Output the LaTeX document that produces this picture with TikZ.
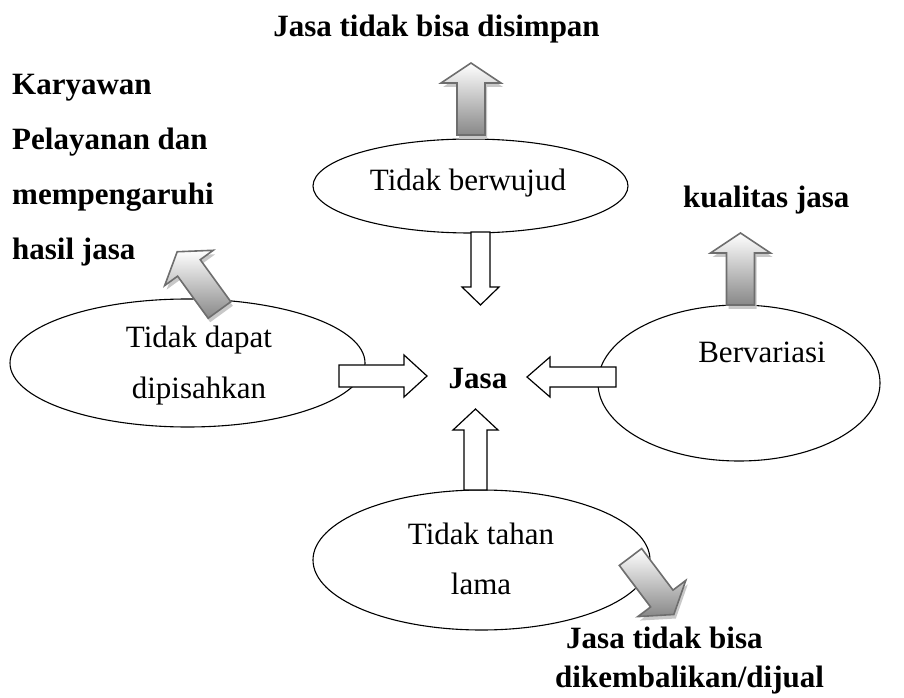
\documentclass[tikz,border=0pt]{standalone}
\usepackage{fontspec}
\setmainfont{Liberation Serif}
\usetikzlibrary{shapes.geometric}
\definecolor{shadowgray}{HTML}{C8C8C8}
\definecolor{arrowedge}{HTML}{6E6E6E}
\definecolor{arrowdark}{HTML}{888888}
\tikzset{
 oval/.style={draw=black, line width=1.1pt, fill=white, ellipse, inner sep=0pt},
 ovaltext/.style={font=\fontsize{31}{31}\selectfont, anchor=base, inner sep=0pt},
 boldtext/.style={font=\fontsize{31}{31}\selectfont\bfseries, inner sep=0pt},
 whitearrow/.style={draw=black, fill=white, line width=1.2pt, line join=miter},
 grayfill/.style={top color=white, bottom color=arrowdark, draw=arrowedge, line width=1.6pt, line join=miter},
 shadowfill/.style={fill=shadowgray},
}
\newcommand{\grayarrow}[4]{%
 \begin{scope}[shift={(#2,#3)},rotate=#4]
  \coordinate (#1p1) at (-14,0);
  \coordinate (#1p2) at (-14,52);
  \coordinate (#1p3) at (-30,52);
  \coordinate (#1p4) at (0,72);
  \coordinate (#1p5) at (30,52);
  \coordinate (#1p6) at (14,52);
  \coordinate (#1p7) at (14,0);
 \end{scope}
 \begin{scope}[shift={(#2+2,#3-4)},rotate=#4]
  \coordinate (#1s1) at (-14,0);
  \coordinate (#1s2) at (-14,52);
  \coordinate (#1s3) at (-30,52);
  \coordinate (#1s4) at (0,72);
  \coordinate (#1s5) at (30,52);
  \coordinate (#1s6) at (14,52);
  \coordinate (#1s7) at (14,0);
 \end{scope}
 \fill[shadowfill] (#1s1)--(#1s2)--(#1s3)--(#1s4)--(#1s5)--(#1s6)--(#1s7)--cycle;
 \shadedraw[grayfill] (#1p1)--(#1p2)--(#1p3)--(#1p4)--(#1p5)--(#1p6)--(#1p7)--cycle;
}
\begin{document}
\begin{tikzpicture}[x=1pt,y=1pt]
\useasboundingbox (0,0) rectangle (904,697);
% ovals
\node[oval, minimum width=315pt, minimum height=94pt] (e1) at (470.5,511) {};
\node[oval, minimum width=355pt, minimum height=128pt] (e2) at (187.5,334) {};
\node[oval, minimum width=282pt, minimum height=156pt] (e3) at (739,314) {};
\node[oval, minimum width=337pt, minimum height=140pt] (e4) at (481.5,137) {};
% oval texts
\node[ovaltext] (t1) at (468,506) {Tidak berwujud};
\node[ovaltext] (t2a) at (199,350) {Tidak dapat};
\node[ovaltext] (t2b) at (199,299) {dipisahkan};
\node[ovaltext] (t3) at (762,335) {Bervariasi};
\node[ovaltext] (t4a) at (481,153) {Tidak tahan};
\node[ovaltext] (t4b) at (481,103) {lama};
% centre
\node[boldtext, anchor=base] (jasa) at (478,309) {Jasa};
% white block arrows
\draw[whitearrow] (471,465) -- (471,410) -- (462,410) -- (480.5,392) -- (499,410) -- (490,410) -- (490,465) -- cycle;
\draw[whitearrow] (339,332) -- (404,332) -- (404,342) -- (427,321) -- (404,300) -- (404,310) -- (339,310) -- cycle;
\draw[whitearrow] (616,330) -- (550,330) -- (550,340) -- (527,320) -- (550,300) -- (550,310) -- (616,310) -- cycle;
\draw[whitearrow] (464,207) -- (464,267) -- (453,267) -- (475.5,288) -- (498,267) -- (487,267) -- (487,207) -- cycle;
% gray block arrows
\grayarrow{ga}{471}{562}{0}
\grayarrow{gb}{740.5}{392}{0}
\grayarrow{gc}{219.5}{387}{36}
\grayarrow{gd}{630.5}{140}{-143}
% bold labels
\node[boldtext, anchor=base] (l1) at (436.5,660) {Jasa tidak bisa disimpan};
\node[boldtext, anchor=base west] (l2) at (12,602) {Karyawan};
\node[boldtext, anchor=base west] (l3) at (12,547) {Pelayanan dan};
\node[boldtext, anchor=base west] (l4) at (12,492) {mempengaruhi};
\node[boldtext, anchor=base west] (l5) at (12,437) {hasil jasa};
\node[boldtext, anchor=base west] (l6) at (683,489) {kualitas jasa};
\node[boldtext, anchor=base west] (l7) at (566,49) {Jasa tidak bisa};
\node[boldtext, anchor=base west] (l8) at (555,10) {dikembalikan/dijual};
\end{tikzpicture}
\end{document}
